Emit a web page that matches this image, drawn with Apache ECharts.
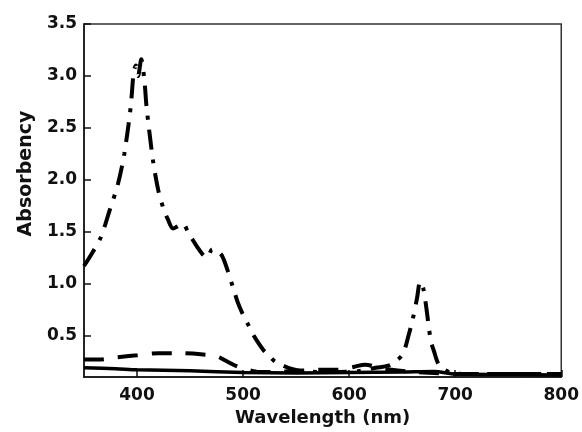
<!DOCTYPE html>
<html>
<head>
<meta charset="utf-8">
<script src="https://cdn.jsdelivr.net/npm/echarts@6/dist/echarts.min.js"></script>
<style>
  html, body { margin: 0; padding: 0; background: #fff; }
  #ec { width: 582px; height: 432px; }
</style>
</head>
<body>
<div id="ec"></div>
<script>
  // wavelength (nm) / absorbency
  const dashDotX = [350, 358, 366, 374, 382, 388, 394, 397, 399, 401, 404, 407, 409, 415, 420, 425, 429, 434, 438, 443, 448, 452, 457, 462, 466, 471, 475, 480, 485, 490, 495, 500, 505, 510, 515, 520, 525, 530, 538, 545, 555, 570, 590, 610, 625, 637, 645, 651, 656, 660, 664, 667, 670, 673, 677, 680, 684, 690, 697, 710, 740, 770, 800]
  const dashDotY = [1.17, 1.3, 1.45, 1.7, 1.96, 2.25, 2.7, 3.05, 3.1, 3.0, 3.16, 2.95, 2.7, 2.19, 1.9, 1.72, 1.62, 1.53, 1.55, 1.58, 1.5, 1.43, 1.35, 1.28, 1.25, 1.33, 1.32, 1.27, 1.14, 0.98, 0.82, 0.7, 0.6, 0.5, 0.42, 0.35, 0.3, 0.25, 0.21, 0.18, 0.16, 0.15, 0.15, 0.16, 0.19, 0.21, 0.26, 0.33, 0.5, 0.66, 0.86, 1.02, 0.95, 0.75, 0.45, 0.35, 0.23, 0.17, 0.14, 0.13, 0.13, 0.13, 0.13]

  const dashX = [350, 365, 380, 400, 420, 440, 460, 475, 485, 495, 505, 515, 530, 550, 570, 590, 605, 615, 625, 640, 660, 680, 700, 750, 800]
  const dashY = [0.27, 0.27, 0.29, 0.31, 0.33, 0.33, 0.32, 0.3, 0.25, 0.2, 0.17, 0.15, 0.15, 0.16, 0.17, 0.17, 0.2, 0.22, 0.2, 0.17, 0.15, 0.14, 0.13, 0.13, 0.13]

  const solidX = [350, 380, 400, 450, 500, 550, 600, 650, 680, 700, 750, 800]
  const solidY = [0.19, 0.18, 0.17, 0.16, 0.145, 0.14, 0.145, 0.15, 0.155, 0.13, 0.125, 0.12]

  const yTicks = [0.5, 1.0, 1.5, 2.0, 2.5, 3.0, 3.5]
  const xTicks = [400, 500, 600, 700, 800]

  const pairs = (xs, ys) => xs.map((x, i) => [x, ys[i]])

  const font = 'DejaVu Sans'
  const ec = echarts.init(document.getElementById('ec'))
  ec.setOption({
    animation: false,
    grid: {
      left: 84,
      right: 18,
      top: 24,
      bottom: 54,
      show: true,
      borderColor: '#333',
      borderWidth: 1.5
    },
    xAxis: {
      type: 'value',
      min: 350,
      max: 800,
      name: 'Wavelength (nm)',
      nameLocation: 'middle',
      nameGap: 31,
      nameTextStyle: { color: '#111', fontFamily: font, fontWeight: 'bold', fontSize: 18 },
      axisLine: { show: true, onZero: false, lineStyle: { color: '#111', width: 1.5 } },
      axisTick: { show: true, inside: true, length: 7, customValues: xTicks, lineStyle: { color: '#111', width: 1.5 } },
      axisLabel: { customValues: xTicks, margin: 10, color: '#111', fontFamily: font, fontWeight: 'bold', fontSize: 17 },
      splitLine: { show: false }
    },
    yAxis: {
      type: 'value',
      min: 0.1,
      max: 3.5,
      name: 'Absorbency',
      nameLocation: 'middle',
      nameGap: 48,
      nameTextStyle: { color: '#111', fontFamily: font, fontWeight: 'bold', fontSize: 19, padding: [0, 0, 0, 54] },
      axisLine: { show: true, onZero: false, lineStyle: { color: '#111', width: 1.5 } },
      axisTick: { show: true, inside: true, length: 7, customValues: yTicks, lineStyle: { color: '#111', width: 1.5 } },
      axisLabel: {
        customValues: yTicks,
        margin: 7,
        color: '#111',
        fontFamily: font,
        fontWeight: 'bold',
        fontSize: 17,
        formatter: v => v.toFixed(1)
      },
      splitLine: { show: false }
    },
    series: [
      {
        type: 'line',
        data: pairs(solidX, solidY),
        smooth: 0.3,
        showSymbol: false,
        lineStyle: { color: '#000', width: 3.5 }
      },
      {
        type: 'line',
        data: pairs(dashX, dashY),
        smooth: 0.3,
        showSymbol: false,
        lineStyle: { color: '#000', width: 4, type: [20, 14] }
      },
      {
        type: 'line',
        data: pairs(dashDotX, dashDotY),
        smooth: 0.3,
        showSymbol: false,
        lineStyle: { color: '#000', width: 4, type: [20, 10, 4, 10] }
      }
    ]
  })
</script>
</body>
</html>
